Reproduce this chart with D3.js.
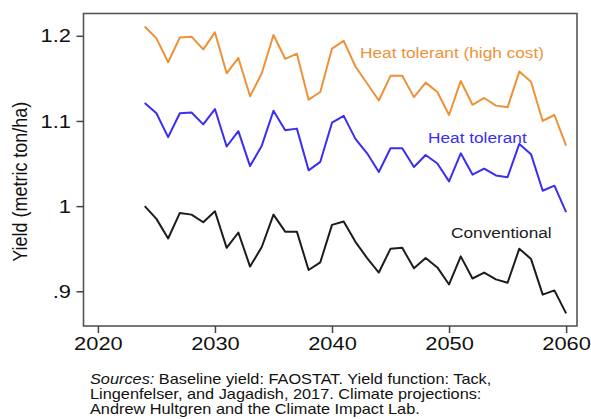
<!DOCTYPE html>
<html>
<head>
<meta charset="utf-8">
<script src="https://cdn.jsdelivr.net/npm/d3@7"></script>
<style>
  html, body { margin: 0; padding: 0; background: #fff; }
  svg { display: block; font-family: "Liberation Sans", Arial, Helvetica, sans-serif; }
</style>
</head>
<body>
<svg id="chart" width="591" height="419"></svg>
<script>
const years = d3.range(2024, 2061);
const highCost = [1.211, 1.197, 1.169, 1.198, 1.199, 1.184, 1.204, 1.156, 1.174, 1.129,
  1.156, 1.201, 1.173, 1.179, 1.125, 1.134, 1.185, 1.194, 1.164, 1.144,
  1.124, 1.153, 1.153, 1.128, 1.145, 1.134, 1.107, 1.147, 1.119, 1.127,
  1.118, 1.116, 1.158, 1.146, 1.100, 1.107, 1.071];
const heatTolerant = [1.121, 1.109, 1.081, 1.109, 1.110, 1.096, 1.114, 1.070, 1.088, 1.047,
  1.071, 1.112, 1.089, 1.091, 1.042, 1.052, 1.098, 1.106, 1.079, 1.062,
  1.040, 1.068, 1.068, 1.046, 1.060, 1.050, 1.029, 1.062, 1.037, 1.044,
  1.036, 1.034, 1.073, 1.061, 1.018, 1.024, 0.993];
const conventional = [1.000, 0.985, 0.962, 0.992, 0.990, 0.981, 0.994, 0.951, 0.969, 0.929,
  0.952, 0.990, 0.970, 0.970, 0.925, 0.934, 0.978, 0.982, 0.958, 0.939,
  0.922, 0.950, 0.951, 0.927, 0.939, 0.928, 0.908, 0.941, 0.915, 0.922,
  0.914, 0.910, 0.950, 0.938, 0.896, 0.901, 0.874];
const xTicks = [2020, 2030, 2040, 2050, 2060];
const yTicks = [0.9, 1.0, 1.1, 1.2];
const yTickLabels = [".9", "1", "1.1", "1.2"];
const seriesNames = ["Heat tolerant (high cost)", "Heat tolerant", "Conventional"];
const sourceLines = [
  ["Sources:", " Baseline yield: FAOSTAT. Yield function: Tack,"],
  ["", "Lingenfelser, and Jagadish, 2017. Climate projections:"],
  ["", "Andrew Hultgren and the Climate Impact Lab."]
];

const colors = ["#ED9239", "#3A2EF2", "#1c1c1c"];
const SX = 1.15; // horizontal text stretch seen in the reference
const svg = d3.select("#chart");
const pLeft = 83.5, pRight = 577, pTop = 13.5, pBottom = 326;

const x = d3.scaleLinear().domain([2018.77, 2060.93]).range([pLeft, pRight]);
const y = d3.scaleLinear().domain([0.8592, 1.2262]).range([pBottom, pTop]);

// frame
svg.append("rect")
  .attr("x", pLeft).attr("y", pTop)
  .attr("width", pRight - pLeft).attr("height", pBottom - pTop)
  .attr("fill", "none").attr("stroke", "#555").attr("stroke-width", 1.6);

const xAxis = svg.append("g").attr("transform", `translate(0,${pBottom})`)
  .call(d3.axisBottom(x).tickValues(xTicks).tickFormat(d3.format("d")).tickSize(7).tickPadding(4));
const yAxis = svg.append("g").attr("transform", `translate(${pLeft},0)`)
  .call(d3.axisLeft(y).tickValues(yTicks).tickFormat((d, i) => yTickLabels[i]).tickSize(7).tickPadding(4));
[xAxis, yAxis].forEach(g => {
  g.select(".domain").remove();
  g.selectAll(".tick line").attr("stroke", "#444").attr("stroke-width", 1.5);
  g.selectAll(".tick text").attr("fill", "#111").style("font-size", "19px")
    .style("font-family", "'Liberation Sans', Arial, sans-serif")
    .attr("transform", `scale(${SX},1)`);
});

svg.append("text")
  .attr("transform", `translate(27,${(pTop + pBottom) / 2 + 12}) rotate(-90) scale(1,${SX})`)
  .attr("text-anchor", "middle")
  .style("font-size", "18px").attr("fill", "#111")
  .text("Yield (metric ton/ha)");

const line = d3.line().x((d, i) => x(years[i])).y(d => y(d));
[highCost, heatTolerant, conventional].forEach((s, k) => {
  svg.append("path").datum(s)
    .attr("d", line)
    .attr("fill", "none")
    .attr("stroke", colors[k])
    .attr("stroke-width", 2)
    .attr("stroke-linejoin", "round");
});

// series labels
const labelPos = [[360, 58], [428, 143], [451, 238]];
seriesNames.forEach((n, k) => {
  svg.append("text")
    .attr("transform", `translate(${labelPos[k][0]},${labelPos[k][1]}) scale(${SX},1)`)
    .attr("fill", colors[k]).style("font-size", "15px").text(n);
});

// sources
sourceLines.forEach((ln, i) => {
  const t = svg.append("text")
    .attr("transform", `translate(90,${384 + i * 15}) scale(1.165,1)`)
    .style("font-size", "14px").attr("fill", "#111");
  if (ln[0]) t.append("tspan").style("font-style", "italic").text(ln[0]);
  t.append("tspan").text(ln[1]);
});
</script>
</body>
</html>
